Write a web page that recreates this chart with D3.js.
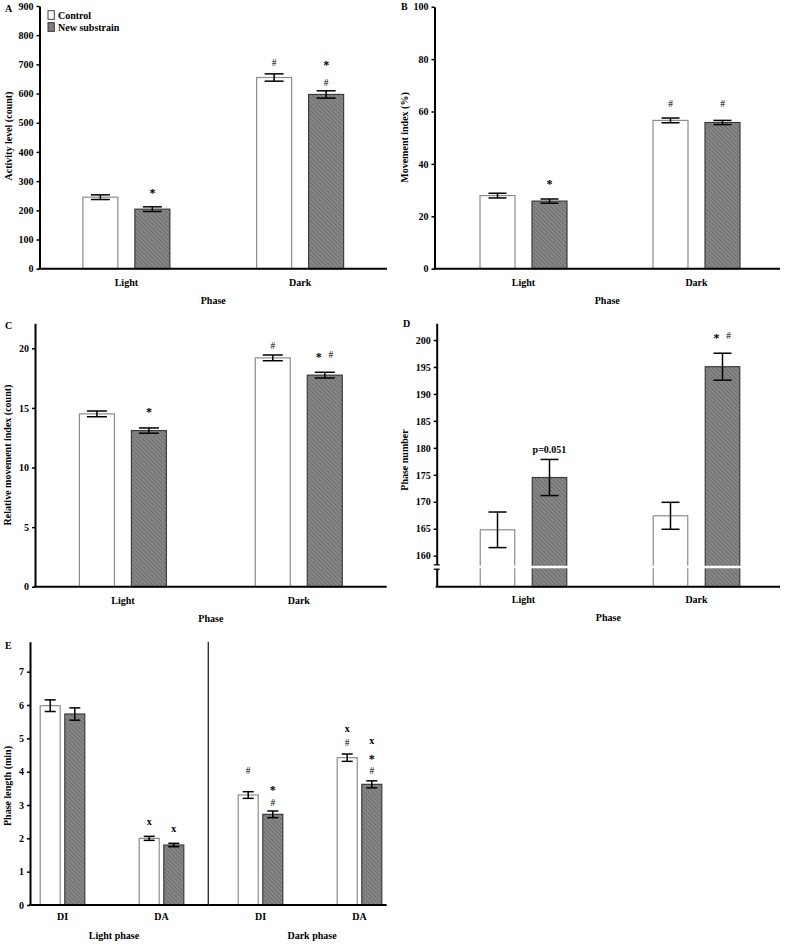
<!DOCTYPE html>
<html><head><meta charset="utf-8">
<script src="https://cdn.jsdelivr.net/npm/d3@7/dist/d3.min.js"></script>
<style>
body{margin:0;background:#fff;}
text{font-family:"Liberation Serif","Times New Roman",serif;font-weight:bold;fill:#000;}
</style></head><body>
<svg id="c" width="787" height="944"></svg>
<script>
// ---------- data ----------
const seriesNames = ["Control", "New substrain"];
const phases = ["Light", "Dark"];

// A: activity level (count)
const activityControl = [245, 655];
const activityControlErr = [8, 12.5];
const activityNew = [204, 597];
const activityNewErr = [8, 12.5];
const activityTicks = [0, 100, 200, 300, 400, 500, 600, 700, 800, 900];

// B: movement index (%)
const movementControl = [27.9, 56.6];
const movementControlErr = [0.9, 0.9];
const movementNew = [25.8, 55.8];
const movementNewErr = [0.8, 0.8];
const movementTicks = [0, 20, 40, 60, 80, 100];

// C: relative movement index (count)
const relMoveControl = [14.5, 19.2];
const relMoveControlErr = [0.24, 0.24];
const relMoveNew = [13.1, 17.75];
const relMoveNewErr = [0.22, 0.24];
const relMoveTicks = [0, 5, 10, 15, 20];

// D: phase number
const phaseNumControl = [164.8, 167.4];
const phaseNumControlErr = [3.3, 2.5];
const phaseNumNew = [174.5, 195.05];
const phaseNumNewErr = [3.35, 2.5];
const phaseNumTicks = [160, 165, 170, 175, 180, 185, 190, 195, 200];

// E: phase length (min)
const lengthCats = ["DI", "DA", "DI", "DA"];
const lengthGroups = ["Light phase", "Dark phase"];
const lengthControl = [5.98, 2.0, 3.3, 4.42];
const lengthControlErr = [0.175, 0.06, 0.1, 0.11];
const lengthNew = [5.73, 1.8, 2.72, 3.62];
const lengthNewErr = [0.185, 0.05, 0.1, 0.105];
const lengthTicks = [0, 1, 2, 3, 4, 5, 6, 7];

// significance marks: category index, series (0 control, 1 new), tokens, value-level of mark
const activityMarks = [
  {c: 0, s: 1, t: ["*"], v: 265},
  {c: 1, s: 0, t: ["#"], v: 705},
  {c: 1, s: 1, t: ["*"], v: 705},
  {c: 1, s: 1, t: ["#"], v: 637}
];
const movementMarks = [
  {c: 0, s: 1, t: ["*"], v: 32.8},
  {c: 1, s: 0, t: ["#"], v: 63.1},
  {c: 1, s: 1, t: ["#"], v: 63.1}
];
const relMoveMarks = [
  {c: 0, s: 1, t: ["*"], v: 14.77},
  {c: 1, s: 0, t: ["#"], v: 20.19},
  {c: 1, s: 1, t: ["*", "#"], v: 19.44}
];
const phaseNumMarks = [
  {c: 0, s: 1, t: ["p=0.051"], v: 179.7},
  {c: 1, s: 1, t: ["*", "#"], v: 200.7}
];
const lengthMarks = [
  {c: 1, s: 0, t: ["x"], v: 2.47},
  {c: 1, s: 1, t: ["x"], v: 2.27},
  {c: 2, s: 0, t: ["#"], v: 4.03},
  {c: 2, s: 1, t: ["*"], v: 3.49},
  {c: 2, s: 1, t: ["#"], v: 3.07},
  {c: 3, s: 0, t: ["x"], v: 5.27},
  {c: 3, s: 0, t: ["#"], v: 4.88},
  {c: 3, s: 1, t: ["x"], v: 4.89},
  {c: 3, s: 1, t: ["*"], v: 4.44},
  {c: 3, s: 1, t: ["#"], v: 4.03}
];

// ---------- drawing ----------
const svg = d3.select("#c");
const defs = svg.append("defs");
const pat = defs.append("pattern").attr("id", "hatch")
  .attr("patternUnits", "userSpaceOnUse").attr("width", 3).attr("height", 3)
  .attr("patternTransform", "rotate(-45)");
pat.append("rect").attr("width", 3).attr("height", 3).attr("fill", "#878787");
pat.append("line").attr("x1", 0.5).attr("y1", 0).attr("x2", 0.5).attr("y2", 3)
  .attr("stroke", "#6e6e6e").attr("stroke-width", 1);

function tokenStyle(sel, tok) {
  if (tok === "*") { sel.attr("font-size", 12).style("font-weight", "bold"); return 5.6; }
  if (tok === "#") { sel.attr("font-size", 9.5).style("font-weight", "normal"); return 3.2; }
  if (tok === "x") { sel.attr("font-size", 10).style("font-weight", "bold"); return 2.4; }
  sel.attr("font-size", 10).style("font-weight", "bold"); return 3.4;
}

function drawPanel(p) {
  const g = svg.append("g");
  const y = d3.scaleLinear().domain(p.domain).range([p.yBottom, p.yTop]);
  const x = d3.scaleBand().domain(d3.range(p.cats.length)).range(p.band);
  const cx = i => x(i) + x.bandwidth() / 2;
  const sets = [
    {vals: p.ctrl, err: p.ctrlErr, off: -p.off, fill: "#fff", stroke: "#8c8c8c"},
    {vals: p.nw, err: p.nwErr, off: p.off, fill: "url(#hatch)", stroke: "#3c3c3c"}
  ];
  sets.forEach(s => {
    g.append("g").selectAll("rect").data(s.vals).join("rect")
      .attr("x", (d, i) => cx(i) + s.off - p.barW / 2)
      .attr("y", d => y(d))
      .attr("width", p.barW)
      .attr("height", d => y(p.domain[0]) - y(d))
      .attr("fill", s.fill).attr("stroke", s.stroke).attr("stroke-width", 1.2);
  });
  // axis break in bars (panel D)
  if (p.breakAt !== undefined) {
    sets.forEach(s => {
      g.append("g").selectAll("line").data(s.vals).join("line")
        .attr("x1", (d, i) => cx(i) + s.off - p.barW / 2 - 1.5)
        .attr("x2", (d, i) => cx(i) + s.off + p.barW / 2 + 1.5)
        .attr("y1", y(p.breakAt)).attr("y2", y(p.breakAt))
        .attr("stroke", "#fff").attr("stroke-width", 2.6);
    });
  }
  // error bars
  sets.forEach(s => {
    const eg = g.append("g").attr("stroke", "#000").attr("stroke-width", 1.5);
    s.vals.forEach((v, i) => {
      const xc = cx(i) + s.off;
      const e = s.err[i];
      eg.append("line").attr("x1", xc).attr("x2", xc).attr("y1", y(v - e)).attr("y2", y(v + e));
      eg.append("line").attr("x1", xc - p.capW / 2).attr("x2", xc + p.capW / 2).attr("y1", y(v - e)).attr("y2", y(v - e));
      eg.append("line").attr("x1", xc - p.capW / 2).attr("x2", xc + p.capW / 2).attr("y1", y(v + e)).attr("y2", y(v + e));
    });
  });
  // y axis
  const ya = g.append("g").attr("transform", `translate(${p.x0},0)`)
    .call(d3.axisLeft(y).tickValues(p.ticks).tickSize(3).tickSizeOuter(0).tickPadding(3));
  ya.select(".domain").attr("stroke", "#000").attr("stroke-width", 2);
  ya.selectAll(".tick line").attr("stroke", "#000").attr("stroke-width", 1.5);
  ya.selectAll(".tick text").attr("font-size", 10).attr("font-family", null).attr("fill", "#000");
  if (p.breakAt !== undefined) {
    const yb = y(p.breakAt);
    g.append("rect").attr("x", p.x0 - 2).attr("y", yb - 2).attr("width", 4).attr("height", 4).attr("fill", "#fff");
    [-2.2, 2.2].forEach(d => g.append("line").attr("x1", p.x0 - 3).attr("x2", p.x0 + 3)
      .attr("y1", yb + d).attr("y2", yb + d).attr("stroke", "#000").attr("stroke-width", 1.3));
  }
  // x axis line
  g.append("line").attr("x1", p.x0 - 1).attr("x2", p.x1).attr("y1", p.yBottom).attr("y2", p.yBottom)
    .attr("stroke", "#000").attr("stroke-width", 2);
  // category labels
  const xa = g.append("g").attr("transform", `translate(0,${p.catY})`)
    .call(d3.axisBottom(x).tickSize(0).tickPadding(0).tickFormat(i => p.cats[i]));
  xa.select(".domain").remove();
  xa.selectAll(".tick text").attr("font-size", 10).attr("font-family", null).attr("fill", "#000").attr("dy", 0);
  // x title
  if (p.xTitle) g.append("text").attr("x", (p.x0 + p.x1) / 2).attr("y", p.xTitleY)
    .attr("text-anchor", "middle").attr("font-size", 10).text(p.xTitle);
  // y title
  g.append("text").attr("transform", `translate(${p.yLabelX},${p.yLabelY}) rotate(-90)`)
    .attr("text-anchor", "middle").attr("dominant-baseline", "central")
    .attr("font-size", 10).text(p.yLabel);
  // panel letter
  g.append("text").attr("x", p.letterX).attr("y", p.letterY).attr("font-size", 10).text(p.letter);
  // marks
  p.marks.forEach(m => {
    const xc = cx(m.c) + (m.s === 0 ? -p.off : p.off);
    const n = m.t.length;
    m.t.forEach((tok, k) => {
      const t = g.append("text").attr("text-anchor", "middle").text(tok);
      const dy = tokenStyle(t, tok);
      t.attr("x", xc + (k - (n - 1) / 2) * 12).attr("y", y(m.v) + dy);
    });
  });
  return {g, x, y, cx};
}

// Panel A
const pA = drawPanel({
  x0: 39.5, x1: 387, yTop: 6, yBottom: 268.7, domain: [0, 900], ticks: activityTicks,
  band: [39.5, 387], cats: phases, ctrl: activityControl, ctrlErr: activityControlErr,
  nw: activityNew, nwErr: activityNewErr, barW: 35, off: 26, capW: 19,
  catY: 285.5, xTitle: "Phase", xTitleY: 303.5,
  yLabel: "Activity level (count)", yLabelX: 8.5, yLabelY: 136,
  letter: "A", letterX: 5, letterY: 12, marks: activityMarks
});
// legend
const leg = pA.g.append("g");
seriesNames.forEach((s, i) => {
  leg.append("rect").attr("x", 48).attr("y", 10.7 + i * 12).attr("width", 6.3).attr("height", 8.6)
    .attr("fill", i === 0 ? "#fff" : "url(#hatch)").attr("stroke", i === 0 ? "#444" : "#333").attr("stroke-width", 1);
  leg.append("text").attr("x", 58).attr("y", 18.6 + i * 12).attr("font-size", 10).text(s);
});

// Panel B
drawPanel({
  x0: 434.5, x1: 780, yTop: 6.7, yBottom: 268.7, domain: [0, 100], ticks: movementTicks,
  band: [437, 783], cats: phases, ctrl: movementControl, ctrlErr: movementControlErr,
  nw: movementNew, nwErr: movementNewErr, barW: 35, off: 26, capW: 18,
  catY: 285.5, xTitle: "Phase", xTitleY: 303.5,
  yLabel: "Movement index (%)", yLabelX: 404, yLabelY: 137.5,
  letter: "B", letterX: 401, letterY: 10, marks: movementMarks
});

// Panel C
drawPanel({
  x0: 35, x1: 386.7, yTop: 323.3, yBottom: 586.7, domain: [0, 22.1], ticks: relMoveTicks,
  band: [35, 386.7], cats: phases, ctrl: relMoveControl, ctrlErr: relMoveControlErr,
  nw: relMoveNew, nwErr: relMoveNewErr, barW: 35, off: 26, capW: 20,
  catY: 603.5, xTitle: "Phase", xTitleY: 621.5,
  yLabel: "Relative movement index (count)", yLabelX: 7, yLabelY: 455,
  letter: "C", letterX: 5, letterY: 329, marks: relMoveMarks
});

// Panel D
drawPanel({
  x0: 436.7, x1: 780, yTop: 323.3, yBottom: 586.7, domain: [154.25, 203.1], ticks: phaseNumTicks,
  band: [437, 783], cats: phases, ctrl: phaseNumControl, ctrlErr: phaseNumControlErr,
  nw: phaseNumNew, nwErr: phaseNumNewErr, barW: 34.5, off: 26, capW: 18,
  catY: 602.8, xTitle: "Phase", xTitleY: 620.8, breakAt: 157.9,
  yLabel: "Phase number", yLabelX: 404, yLabelY: 460,
  letter: "D", letterX: 403, letterY: 327, marks: phaseNumMarks
});

// Panel E
const pE = drawPanel({
  x0: 30, x1: 386.7, yTop: 641.7, yBottom: 905, domain: [0, 7.9], ticks: lengthTicks,
  band: [13, 409], cats: lengthCats, ctrl: lengthControl, ctrlErr: lengthControlErr,
  nw: lengthNew, nwErr: lengthNewErr, barW: 20, off: 12.3, capW: 11,
  catY: 920.2, xTitle: null,
  yLabel: "Phase length (min)", yLabelX: 7, yLabelY: 786,
  letter: "E", letterX: 5, letterY: 649, marks: lengthMarks
});
// separator between light and dark phases
pE.g.append("line").attr("x1", 208.3).attr("x2", 208.3).attr("y1", 641.7).attr("y2", 905)
  .attr("stroke", "#333").attr("stroke-width", 1.4);
// phase group labels
lengthGroups.forEach((lab, j) => {
  const xm = (pE.cx(2 * j) + pE.cx(2 * j + 1)) / 2;
  pE.g.append("text").attr("x", xm + 2).attr("y", 938.5).attr("text-anchor", "middle")
    .attr("font-size", 10).text(lab);
});
</script>
</body></html>
